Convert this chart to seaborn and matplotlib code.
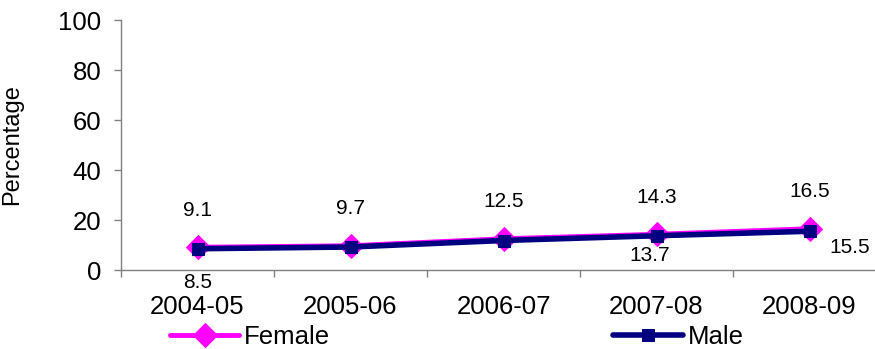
import matplotlib
matplotlib.use("Agg")
import matplotlib.pyplot as plt
import seaborn as sns
import pandas as pd

years = ["2004-05", "2005-06", "2006-07", "2007-08", "2008-09"]
female = [9.1, 9.7, 12.5, 14.3, 16.5]
male = [8.5, 9.2, 11.8, 13.7, 15.5]
male_labelled = [True, False, False, True, True]

sns.set_theme(style="white")
plt.rcParams["font.family"] = ["Liberation Sans", "DejaVu Sans"]
plt.rcParams["text.color"] = "black"
plt.rcParams["axes.labelcolor"] = "black"
plt.rcParams["xtick.color"] = "black"
plt.rcParams["ytick.color"] = "black"

df = pd.concat([
    pd.DataFrame({"Year": years, "Value": female, "Sex": "Female"}),
    pd.DataFrame({"Year": years, "Value": male, "Sex": "Male"}),
])

fig = plt.figure(figsize=(8.75, 3.49), dpi=100)
ax = fig.add_axes([121 / 875, 79 / 349, 765 / 875, 250 / 349])

sns.lineplot(data=df[df.Sex == "Female"], x="Year", y="Value", ax=ax,
             color="#FF00FF", lw=3.5, marker="D", markersize=12,
             markeredgecolor="#FF00FF", label="Female", sort=False)
sns.lineplot(data=df[df.Sex == "Male"], x="Year", y="Value", ax=ax,
             color="#000080", lw=4, marker="s", markersize=8.5,
             markeredgecolor="#000080", label="Male", sort=False)

ax.set_xlim(-0.5, 4.5)
ax.set_ylim(0, 100)
ax.set_yticks(range(0, 101, 20))

# category labels sit on minor ticks, boundary marks on major ticks
ax.set_xticks([i - 0.5 for i in range(len(years) + 1)])
ax.set_xticklabels([])
ax.set_xticks(range(len(years)), minor=True)
ax.set_xticklabels(years, minor=True)
ax.tick_params(axis="x", which="major", direction="out", length=5, width=1,
               color="#808080", bottom=True)
ax.tick_params(axis="x", which="minor", length=0, pad=18, labelsize=18.5,
               labelcolor="black")
ax.tick_params(axis="y", direction="out", length=5, width=1, color="#808080",
               left=True, pad=9, labelsize=18.5, labelcolor="black")

for s in ["top", "right"]:
    ax.spines[s].set_visible(False)
for s in ["left", "bottom"]:
    ax.spines[s].set_color("#808080")
    ax.spines[s].set_linewidth(1)

ax.set_xlabel("")
ax.set_ylabel("Percentage", fontsize=17, color="black")
ax.yaxis.set_label_coords(-0.128, 0.5)

for i, v in enumerate(female):
    ax.annotate(f"{v}", (i, v), xytext=(0, 37), textcoords="offset pixels",
                ha="center", va="center", fontsize=15, color="black")

male_offsets = [(0, -34), (0, -30), (0, -30), (-7, -20), (40, -16)]
for i, v in enumerate(male):
    if male_labelled[i]:
        ax.annotate(f"{v}", (i, v), xytext=male_offsets[i],
                    textcoords="offset pixels", ha="center", va="center",
                    fontsize=15, color="black")

ax.legend(loc="center", bbox_to_anchor=(0.522, 0.034),
          bbox_transform=fig.transFigure, ncol=2, frameon=False,
          fontsize=18.5, handlelength=2.7, columnspacing=11, handletextpad=0.2)

fig.savefig("out.png", dpi=100)
